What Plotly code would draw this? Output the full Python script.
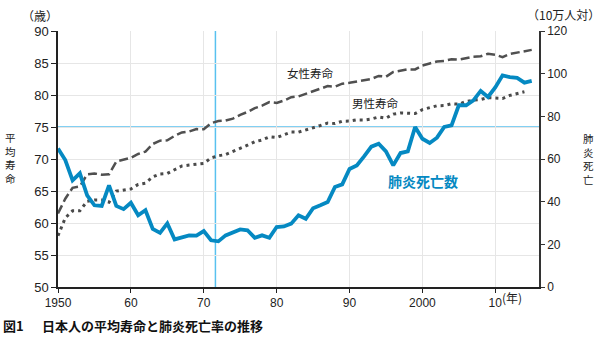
import plotly.graph_objects as go

years = list(range(1950, 2016))
female = [61.5, 63.8, 65.5, 65.7, 67.6, 67.75, 67.54, 67.6, 69.61, 69.88,
          70.19, 70.79, 71.16, 72.34, 72.87, 72.92, 73.61, 74.15, 74.30, 74.67,
          74.66, 75.58, 75.94, 76.02, 76.31, 76.89, 77.35, 77.95, 78.33, 78.89,
          78.76, 79.13, 79.66, 79.78, 80.18, 80.48, 80.93, 81.39, 81.30, 81.77,
          81.90, 82.11, 82.22, 82.51, 82.98, 82.85, 83.59, 83.82, 84.01, 83.99,
          84.60, 84.93, 85.23, 85.33, 85.59, 85.52, 85.81, 85.99, 86.05, 86.44,
          86.30, 85.90, 86.41, 86.61, 86.83, 87.05]
male_years = list(range(1950, 2015))
male = [58.0, 60.8, 61.9, 61.9, 63.41, 63.60, 63.59, 63.24, 64.98, 65.21,
        65.32, 66.03, 66.23, 67.21, 67.67, 67.74, 68.35, 68.91, 69.05, 69.18,
        69.31, 70.17, 70.50, 70.70, 71.16, 71.73, 72.15, 72.69, 72.97, 73.46,
        73.35, 73.79, 74.22, 74.20, 74.54, 74.78, 75.23, 75.61, 75.54, 75.91,
        75.92, 76.11, 76.09, 76.25, 76.57, 76.38, 77.01, 77.19, 77.16, 77.10,
        77.72, 78.07, 78.32, 78.36, 78.64, 78.56, 79.00, 79.19, 79.29, 79.59,
        79.55, 79.44, 79.94, 80.21, 80.50]
pneumonia = [64.9, 59.5, 50.0, 53.3, 43.0, 38.3, 38.0, 47.6, 38.0, 36.5,
             39.5, 33.6, 36.0, 27.2, 25.4, 29.8, 22.3, 23.4, 24.2, 24.1,
             26.2, 21.9, 21.4, 24.2, 25.8, 27.0, 26.6, 23.1, 24.2, 23.1,
             28.1, 28.4, 29.7, 33.6, 32.0, 36.9, 38.3, 39.8, 46.9, 48.1,
             55.3, 57.0, 61.2, 65.8, 67.2, 63.6, 57.0, 62.8, 63.6, 75.0,
             69.5, 67.5, 70.0, 75.0, 75.8, 85.2, 85.2, 87.5, 91.9, 89.1,
             93.5, 99.2, 98.4, 98.0, 95.8, 96.6]

x_tickvals = [1950, 1960, 1970, 1980, 1990, 2000, 2010]
x_ticktext = ["1950", "60", "70", "80", "90", "2000", "10"]
ref_year = 1971.6
ref_age = 75

W, H = 602, 348
L, R, T, B = 58.3, 538.7, 30.7, 286.7

def px(x):
    return (x - L) / (R - L)

def py(y):
    return (B - y) / (B - T)

JP = "Noto Sans CJK JP"
LAT = "Liberation Sans, Arial, sans-serif"
BLUE = "#0589c2"
CROSS = "#58c1ef"

fig = go.Figure()
fig.add_trace(go.Scatter(x=years, y=female, mode="lines",
                         line=dict(color="#505050", width=2.5, dash="9px,4px"),
                         showlegend=False))
fig.add_trace(go.Scatter(x=male_years, y=male, mode="lines",
                         line=dict(color="#4a4a4a", width=3, dash="3px,4px"),
                         showlegend=False))
fig.add_trace(go.Scatter(x=years, y=pneumonia, mode="lines", yaxis="y2",
                         line=dict(color=BLUE, width=3.8),
                         showlegend=False))

fig.add_shape(type="line", xref="x", yref="y", x0=1950, x1=2016,
              y0=ref_age, y1=ref_age, line=dict(color=CROSS, width=1.5), layer="below")
fig.add_shape(type="line", xref="x", yref="y", x0=ref_year, x1=ref_year,
              y0=50, y1=90, line=dict(color=CROSS, width=1.5), layer="below")

ann = []
def text(t, x, y, size=12, color="#222", family=JP, xanchor="center"):
    ann.append(dict(text=t, x=px(x), y=py(y), xref="paper", yref="paper",
                    showarrow=False, xanchor=xanchor, yanchor="middle",
                    font=dict(size=size, color=color, family=family)))

text("（歳）", 40, 15, size=12)
text("（10万人対）", 563, 14, size=12)
text("<br>".join("平均寿命"), 10.5, 157.5, size=10.5)
text("<br>".join("肺炎死亡"), 588, 158.5, size=10.5)
text("女性寿命", 310, 73, size=11.5)
text("男性寿命", 375.5, 103, size=11.5)
text("<b>肺炎死亡数</b>", 422.5, 181, size=14, color=BLUE)
text("(年)", 500, 297.5, size=12, xanchor="left")
text("<b>図1</b>", 1, 325, size=13, color="#111", xanchor="left")
text("<b>日本人の平均寿命と肺炎死亡率の推移</b>", 40, 325, size=13, color="#111", xanchor="left")

fig.update_layout(
    width=W, height=H,
    margin=dict(l=L, r=W - R, t=T, b=H - B, pad=0),
    paper_bgcolor="white", plot_bgcolor="white",
    annotations=ann,
    xaxis=dict(range=[1950, 2016], tickvals=x_tickvals, ticktext=x_ticktext,
               showgrid=True, gridcolor="#e6e6e6", gridwidth=1,
               showline=True, linecolor="#222", linewidth=1.5,
               ticks="outside", ticklen=4, tickcolor="#222", tickwidth=1,
               tickfont=dict(family=LAT, size=12, color="#222"),
               zeroline=False),
    yaxis=dict(range=[50, 90], dtick=5, tick0=50,
               showgrid=True, gridcolor="#e6e6e6", gridwidth=1,
               showline=True, linecolor="#222", linewidth=1.5,
               ticks="outside", ticklen=5, tickcolor="#222", tickwidth=1,
               tickfont=dict(family=LAT, size=13, color="#222"),
               zeroline=False),
    yaxis2=dict(range=[0, 120], dtick=20, tick0=0, overlaying="y", side="right",
                showgrid=False, showline=True, linecolor="#333", linewidth=1.5,
                ticks="outside", ticklen=4, tickcolor="#333", tickwidth=1,
                tickfont=dict(family=LAT, size=12, color="#222"),
                zeroline=False),
)

fig.write_html("out.html")
